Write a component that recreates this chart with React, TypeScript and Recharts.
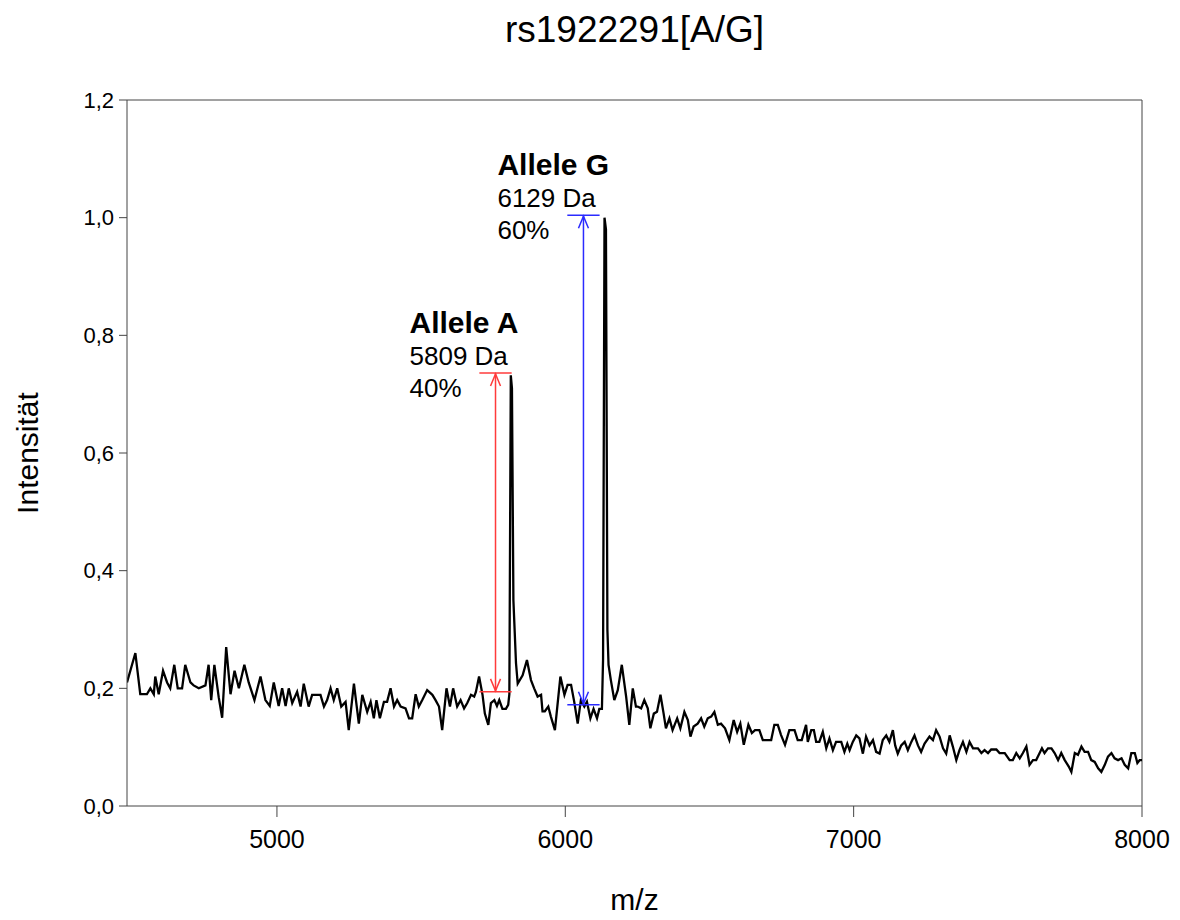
import React from 'react';
import { LineChart, Line, XAxis, YAxis, ReferenceLine } from 'recharts';

// m/z positions and intensities
const mz = [
  4480, 4509, 4526, 4549, 4561, 4573, 4578, 4590, 4605, 4619, 4630, 4644, 4656, 4671, 4682, 4700,
  4711, 4729, 4752, 4763, 4772, 4783, 4798, 4810, 4824, 4839, 4853, 4868, 4887, 4902, 4922, 4943,
  4960, 4975, 4989, 5006, 5018, 5030, 5041, 5053,
  5070, 5082, 5093, 5110, 5122, 5139, 5151, 5163, 5174, 5186, 5197, 5209, 5223, 5238, 5249, 5267,
  5284, 5296, 5313, 5325, 5336, 5345, 5357, 5371, 5382, 5394, 5406, 5417, 5429, 5446, 5458, 5469,
  5481, 5492, 5504, 5521, 5539, 5550, 5562, 5573, 5588, 5600, 5611, 5625, 5637, 5649, 5660,
  5673, 5684, 5690, 5701, 5713, 5721, 5733, 5742, 5754, 5763, 5771, 5782, 5794, 5802, 5806, 5811,
  5815, 5820, 5829, 5835, 5852, 5867, 5881, 5892, 5904, 5916, 5921, 5929, 5941, 5950, 5964, 5983, 5997,
  6008, 6020, 6031, 6043, 6054, 6066, 6075, 6087, 6098, 6110, 6118, 6127, 6131, 6136, 6141, 6146,
  6150, 6158, 6170, 6182, 6196, 6211, 6222, 6234, 6245,
  6251, 6263, 6274, 6286, 6295, 6307, 6318, 6330, 6341, 6349, 6361, 6372, 6388, 6399, 6413, 6425,
  6434, 6445, 6459, 6471, 6482, 6494, 6506, 6517, 6529, 6540, 6554, 6569, 6584, 6596, 6607, 6619,
  6635, 6647, 6658, 6673, 6685, 6714, 6725, 6737, 6748, 6762, 6777, 6795, 6806, 6820, 6835,
  6841, 6853, 6862, 6870, 6881, 6893, 6905, 6916, 6928, 6939, 6957, 6968, 6978, 6986, 6997, 7009,
  7020, 7032, 7043, 7055, 7067, 7078, 7090, 7101, 7113, 7124, 7136, 7144, 7153, 7165, 7177, 7188,
  7200, 7211, 7223, 7234, 7246, 7263, 7275, 7286, 7298, 7310, 7321, 7333, 7344, 7356, 7367, 7379,
  7391, 7402, 7414, 7431,
  7443, 7454, 7466, 7477, 7495, 7506, 7524, 7541, 7552, 7564, 7576, 7587, 7599, 7610, 7622, 7633,
  7645, 7653, 7662, 7674, 7686, 7697, 7709, 7720, 7732, 7746, 7755, 7767, 7778, 7790, 7801, 7813,
  7824, 7836, 7848, 7859, 7871, 7882, 7894, 7905, 7917, 7929, 7940, 7952, 7963, 7975, 7984, 7992,
  8000,
];

const intensity = [
  0.21, 0.26, 0.19, 0.19, 0.2, 0.19, 0.22, 0.19, 0.23, 0.21, 0.2, 0.24, 0.2, 0.2, 0.24, 0.21,
  0.205, 0.2, 0.205, 0.24, 0.18, 0.24, 0.185, 0.15, 0.27, 0.19, 0.23, 0.2, 0.24, 0.21, 0.18, 0.22,
  0.18, 0.17, 0.21, 0.17, 0.2, 0.17, 0.2, 0.175,
  0.194, 0.169, 0.208, 0.169, 0.189, 0.189, 0.189, 0.169, 0.18, 0.2, 0.18, 0.2, 0.169, 0.177, 0.129, 0.208,
  0.14, 0.189, 0.16, 0.177, 0.149, 0.18, 0.149, 0.177, 0.177, 0.2, 0.169, 0.18, 0.169, 0.166, 0.149, 0.149,
  0.19, 0.169, 0.18, 0.197, 0.189, 0.18, 0.169, 0.129, 0.2, 0.169, 0.2, 0.169, 0.18, 0.166, 0.175,
  0.189, 0.186, 0.194, 0.22, 0.189, 0.157, 0.138, 0.175, 0.18, 0.17, 0.18, 0.165, 0.165, 0.172, 0.19, 0.732,
  0.71, 0.35, 0.243, 0.208, 0.222, 0.248, 0.214, 0.2, 0.186, 0.189, 0.161, 0.161, 0.169, 0.152, 0.129, 0.22, 0.189,
  0.206, 0.206, 0.177, 0.14, 0.18, 0.169, 0.177, 0.149, 0.165, 0.149, 0.165, 0.165, 0.25, 1.0, 0.98, 0.3,
  0.24, 0.214, 0.18, 0.197, 0.24, 0.186, 0.138, 0.2, 0.169,
  0.169, 0.166, 0.18, 0.166, 0.132, 0.157, 0.16, 0.189, 0.157, 0.132, 0.149, 0.129, 0.149, 0.132, 0.16, 0.146,
  0.118, 0.135, 0.14, 0.149, 0.135, 0.149, 0.152, 0.16, 0.138, 0.14, 0.132, 0.112, 0.146, 0.126, 0.14, 0.104,
  0.138, 0.124, 0.129, 0.129, 0.112, 0.112, 0.138, 0.138, 0.121, 0.104, 0.129, 0.129, 0.112, 0.112, 0.138,
  0.109, 0.129, 0.129, 0.109, 0.109, 0.126, 0.098, 0.115, 0.095, 0.109, 0.109, 0.092, 0.106, 0.095, 0.109, 0.12,
  0.115, 0.089, 0.118, 0.103, 0.112, 0.092, 0.089, 0.112, 0.12, 0.109, 0.129, 0.103, 0.089, 0.103, 0.109, 0.095,
  0.109, 0.12, 0.103, 0.092, 0.106, 0.118, 0.112, 0.129, 0.118, 0.098, 0.089, 0.12, 0.101, 0.078, 0.095, 0.109,
  0.092, 0.109, 0.098, 0.098,
  0.09, 0.095, 0.09, 0.096, 0.096, 0.09, 0.09, 0.078, 0.078, 0.09, 0.081, 0.09, 0.101, 0.07, 0.078, 0.078,
  0.09, 0.098, 0.09, 0.098, 0.098, 0.09, 0.078, 0.09, 0.078, 0.067, 0.058, 0.09, 0.087, 0.101, 0.092, 0.092,
  0.078, 0.075, 0.064, 0.058, 0.07, 0.084, 0.09, 0.081, 0.078, 0.081, 0.07, 0.064, 0.09, 0.09, 0.073, 0.078,
  0.078,
];

const xTicks = [5000, 6000, 7000, 8000];
const yTicks = [0, 0.2, 0.4, 0.6, 0.8, 1.0, 1.2];

// allele annotations
const alleleNames = ['Allele A', 'Allele G'];
const alleleMasses = ['5809 Da', '6129 Da'];
const allelePercents = ['40%', '60%'];
const arrowMz = [5758, 6063];
const peakTop = [0.736, 1.004];
const peakBase = [0.194, 0.172];

const alleleColors = ['#ff3b3b', '#2b2bff'];
const FONT = '"Liberation Sans", Arial, Helvetica, sans-serif';
const AXIS = '#444';

const spectrum = mz.map((m, i) => ({ mz: m, intensity: intensity[i] }));

const AlleleArrow = (props: any) => {
  const { x1, y1, y2, color, name, mass, percent } = props;
  const x = x1;
  const top = Math.min(y1, y2);
  const bottom = Math.max(y1, y2);
  return (
    <g>
      <line x1={x} y1={top} x2={x} y2={bottom} stroke={color} strokeWidth={1.5} />
      <polyline
        points={`${x - 5},${top + 13} ${x},${top + 1} ${x + 5},${top + 13}`}
        fill="none"
        stroke={color}
        strokeWidth={1.5}
      />
      <polyline
        points={`${x - 5},${bottom - 13} ${x},${bottom - 1} ${x + 5},${bottom - 13}`}
        fill="none"
        stroke={color}
        strokeWidth={1.5}
      />
      <text x={x - 86} y={top - 40} fontFamily={FONT} fontSize={30} fontWeight="bold" fill="#000">
        {name}
      </text>
      <text x={x - 86} y={top - 8} fontFamily={FONT} fontSize={26} fill="#000">
        {mass}
      </text>
      <text x={x - 86} y={top + 24} fontFamily={FONT} fontSize={26} fill="#000">
        {percent}
      </text>
    </g>
  );
};

export default function App() {
  return (
    <div style={{ position: 'absolute', left: 0, top: 0, width: 1180, height: 920, background: '#fff' }}>
      <div
        style={{
          position: 'absolute',
          left: 127,
          top: 11,
          width: 1015,
          textAlign: 'center',
          fontFamily: FONT,
          fontSize: 37,
          lineHeight: '37px',
          color: '#000',
        }}
      >
        rs1922291[A/G]
      </div>
      <LineChart width={1180} height={920} data={spectrum} margin={{ top: 100, right: 38, left: 0, bottom: 0 }}>
        <XAxis
          dataKey="mz"
          type="number"
          domain={[4480, 8000]}
          ticks={xTicks}
          allowDataOverflow
          height={114}
          tickSize={11}
          tickMargin={13}
          stroke={AXIS}
          tick={{ fill: '#000', fontSize: 25, fontFamily: FONT }}
          label={{ value: 'm/z', position: 'insideBottom', offset: 10, fill: '#000', fontSize: 30, fontFamily: FONT }}
        />
        <YAxis
          type="number"
          domain={[0, 1.2]}
          ticks={yTicks}
          width={127}
          tickSize={8}
          tickMargin={5}
          stroke={AXIS}
          tick={{ fill: '#000', fontSize: 22, fontFamily: FONT }}
          tickFormatter={(v: number) => v.toFixed(1).replace('.', ',')}
          label={{
            value: 'Intensität',
            angle: -90,
            position: 'insideLeft',
            offset: 27,
            fill: '#000',
            fontSize: 30,
            fontFamily: FONT,
            style: { textAnchor: 'middle' },
          }}
        />
        <ReferenceLine y={1.2} stroke={AXIS} />
        <ReferenceLine x={8000} stroke={AXIS} />
        <Line
          type="linear"
          dataKey="intensity"
          stroke="#000"
          strokeWidth={2.3}
          dot={false}
          isAnimationActive={false}
        />
        {alleleNames.map((name, i) => (
          <ReferenceLine
            key={name + '-top'}
            segment={[
              { x: arrowMz[i] - 56, y: peakTop[i] },
              { x: arrowMz[i] + 56, y: peakTop[i] },
            ]}
            stroke={alleleColors[i]}
            strokeWidth={1.5}
          />
        ))}
        {alleleNames.map((name, i) => (
          <ReferenceLine
            key={name + '-base'}
            segment={[
              { x: arrowMz[i] - 56, y: peakBase[i] },
              { x: arrowMz[i] + 56, y: peakBase[i] },
            ]}
            stroke={alleleColors[i]}
            strokeWidth={1.5}
          />
        ))}
        {alleleNames.map((name, i) => (
          <ReferenceLine
            key={name + '-arrow'}
            segment={[
              { x: arrowMz[i], y: peakBase[i] },
              { x: arrowMz[i], y: peakTop[i] },
            ]}
            shape={(p: any) => (
              <AlleleArrow
                {...p}
                color={alleleColors[i]}
                name={name}
                mass={alleleMasses[i]}
                percent={allelePercents[i]}
              />
            )}
          />
        ))}
      </LineChart>
    </div>
  );
}
